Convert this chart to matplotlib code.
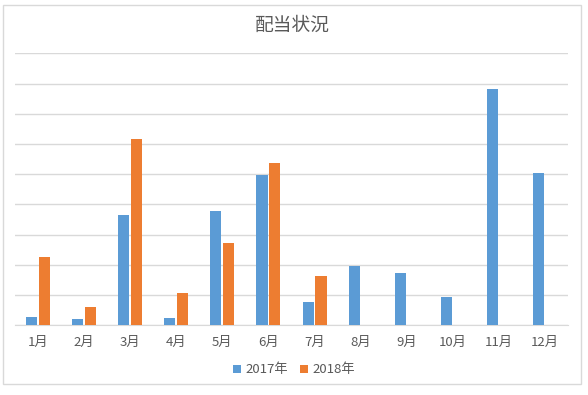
import matplotlib.pyplot as plt
import numpy as np
from matplotlib.patches import Rectangle

plt.rcParams['font.family'] = ['Noto Sans CJK JP', 'DejaVu Sans']

months = ["1月", "2月", "3月", "4月", "5月", "6月", "7月", "8月", "9月", "10月", "11月", "12月"]
sales_2017 = [0.28, 0.21, 3.65, 0.24, 3.78, 4.97, 0.77, 1.96, 1.73, 0.94, 7.82, 5.04]
sales_2018 = [2.26, 0.61, 6.16, 1.07, 2.72, 5.37, 1.63, 0, 0, 0, 0, 0]

blue = "#5b9bd5"
orange = "#ed7d31"
text_gray = "#595959"

fig = plt.figure(figsize=(5.88, 3.95), dpi=100)
ax = fig.add_axes([15 / 588, 1 - 325.3 / 395, 553 / 588, (325.3 - 53.3) / 395])

x = np.arange(len(months))
w = 0.24
ax.bar(x - 0.14, sales_2017, w, color=blue, label="2017年", zorder=3)
ax.bar(x + 0.14, sales_2018, w, color=orange, label="2018年", zorder=3)

ax.set_xlim(-0.5, len(months) - 0.5)
ax.set_ylim(0, 9)
ax.set_yticks(range(0, 10))
ax.yaxis.grid(True, color="#d9d9d9", linewidth=1, zorder=0)
ax.tick_params(axis="y", left=False, labelleft=False)
ax.tick_params(axis="x", length=0, labelsize=9.5, labelcolor=text_gray, pad=8)
ax.set_xticks(x)
ax.set_xticklabels(months)
for s in ["top", "right", "left"]:
    ax.spines[s].set_visible(False)
ax.spines["bottom"].set_color("#d9d9d9")

fig.text(0.497, 1 - 25 / 395, "配当状況", ha="center", va="center",
         fontsize=13.5, color=text_gray)

leg = ax.legend(loc="center", bbox_to_anchor=(0.5, 1 - 370 / 395), bbox_transform=fig.transFigure,
                ncol=2, frameon=False, fontsize=9.5, handlelength=0.6, handleheight=0.6,
                columnspacing=0.9, handletextpad=0.35)
for t in leg.get_texts():
    t.set_color(text_gray)

fig.patches.append(Rectangle((2.5 / 588, 1 - 384 / 395), 578.5 / 588, 379.5 / 395,
                             transform=fig.transFigure, fill=False,
                             edgecolor="#d9d9d9", linewidth=1))

fig.savefig("out.png", dpi=100)
